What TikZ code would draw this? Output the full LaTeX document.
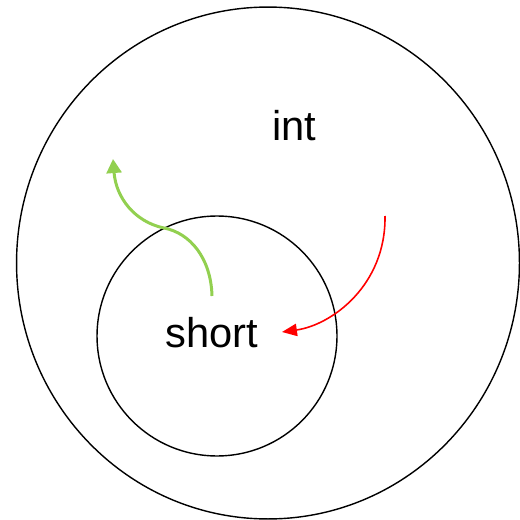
\documentclass[tikz,border=0pt]{standalone}
\usepackage{fontspec}
\setmainfont{Liberation Sans}
\usetikzlibrary{arrows.meta, shapes.geometric}
\definecolor{leafgreen}{HTML}{92D050}
\definecolor{pureRed}{HTML}{FF0000}

\begin{document}
\begin{tikzpicture}[x=0.02cm, y=-0.02cm,
  setring/.style={draw=black, line width=0.8pt, inner sep=0pt},
  typelbl/.style={font=\fontsize{23.7}{28}\selectfont, inner sep=0pt},
  widen/.style={draw=leafgreen, line width=1.7pt, -{Triangle[length=8pt, width=8.5pt]}},
  narrow/.style={draw=pureRed, line width=0.9pt, -{Triangle[length=8.5pt, width=7pt]}},
]
  \useasboundingbox (0,0) rectangle (520,520);
  % --- hai tập giá trị ---
  \node[setring, ellipse, minimum width=10.06cm, minimum height=10.24cm] (intset) at (268,263) {};
  \node[setring, circle, minimum size=4.8cm] (shortset) at (217,336) {};
  \node[typelbl] (intlbl) at (294,126) {int};
  \node[typelbl] (shortlbl) at (212,333) {short};
  % --- mũi tên chuyển kiểu ---
  \coordinate (gfrom) at (212,296);
  \coordinate (gmid) at (164,228);
  \coordinate (gto) at (113,159);
  \coordinate (rfrom) at (385,216);
  \coordinate (rto) at (282,332);
  \draw[widen] (gfrom) .. controls (211,258) and (190,233) .. (gmid)
               .. controls (135,222) and (116,198) .. (gto);
  \draw[narrow] (rfrom) .. controls (386,285) and (332,325) .. (rto);
\end{tikzpicture}
\end{document}
